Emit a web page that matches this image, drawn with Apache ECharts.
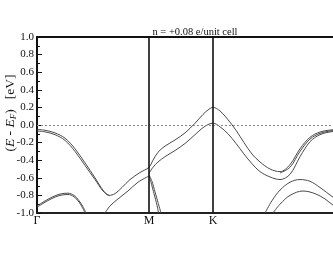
<!DOCTYPE html>
<html><head><meta charset="utf-8">
<script src="https://cdn.jsdelivr.net/npm/echarts@6/dist/echarts.min.js"></script>
<style>html,body{margin:0;padding:0;background:#fff}#c{width:333px;height:258px}</style>
</head><body><div id="c"></div>
<script>
// path distance (scaled): Γ=0, M=112, K=176, Γ=305
const kPoints = [0, 112, 176, 305];
const kLabels = ['Γ', 'M', 'K', 'Γ'];
const yTicks = [-1.0, -0.8, -0.6, -0.4, -0.2, 0.0, 0.2, 0.4, 0.6, 0.8, 1.0];
const titleText = 'n = +0.08 e/unit cell';

const band1Upper = [[0,-0.05],[8,-0.06],[18,-0.09],[28,-0.15],[38,-0.27],[48,-0.43],[58,-0.60],[66,-0.74],[72,-0.80],[78,-0.78],[85,-0.71],[93,-0.62],[103,-0.54],[112,-0.48],
  [116,-0.40],[121,-0.31],[128,-0.24],[138,-0.17],[148,-0.09],[158,0.02],[166,0.12],[172,0.18],[176,0.20],
  [183,0.16],[191,0.06],[199,-0.06],[207,-0.20],[215,-0.33],[223,-0.42],[233,-0.50],[243,-0.53],
  [253,-0.45],[263,-0.27],[273,-0.14],[283,-0.08],[295,-0.055],[305,-0.05]];
const band1Second = [[0,-0.068],[8,-0.078],[18,-0.11],[28,-0.175],[38,-0.30],[48,-0.46],[58,-0.62],[66,-0.75],[72,-0.80]];
const band1Third = [[243,-0.545],[253,-0.48],[263,-0.30],[273,-0.16],[283,-0.095],[295,-0.065],[305,-0.058]];
const band2Lower = [[112,-0.55],[116,-0.48],[121,-0.42],[128,-0.36],[138,-0.29],[148,-0.21],[158,-0.11],[166,-0.03],[172,0.01],[176,0.02],
  [183,-0.02],[191,-0.10],[199,-0.21],[207,-0.33],[215,-0.44],[223,-0.53],[233,-0.59],[243,-0.62],
  [253,-0.56],[263,-0.36],[273,-0.19],[283,-0.11],[295,-0.075],[305,-0.065]];
const bandCLeft = [[68,-1.0],[73,-0.92],[81,-0.84],[91,-0.75],[101,-0.65],[112,-0.58]];
const bandCDown1 = [[112,-0.575],[114,-0.65],[117,-0.78],[120,-0.91],[121.5,-1.0]];
const bandCDown2 = [[112,-0.565],[115,-0.64],[118,-0.76],[121,-0.88],[124,-1.0]];
const bandBUpper = [[0,-0.92],[7,-0.87],[15,-0.82],[23,-0.785],[31,-0.775],[37,-0.80],[42,-0.86],[46,-0.93],[49,-1.0]];
const bandBLower = [[0,-0.935],[7,-0.885],[15,-0.835],[23,-0.80],[31,-0.79],[37,-0.815],[42,-0.875],[45,-0.93],[48,-1.0]];
const archUpper = [[228,-1.0],[235,-0.86],[243,-0.74],[253,-0.65],[263,-0.62],[273,-0.64],[283,-0.71],[296,-0.82],[305,-0.88]];
const archLower = [[236,-1.0],[243,-0.90],[253,-0.80],[266,-0.75],[278,-0.78],[288,-0.84],[296,-0.91],[305,-0.95]];

const chart = echarts.init(document.getElementById('c'), null, {renderer:'canvas'});
const serif = '"Liberation Serif", "DejaVu Serif", serif';
function band(data, smooth) {
  return {type:'line', data:data, showSymbol:false, symbol:'none', smooth: smooth===undefined?0.35:smooth,
    lineStyle:{color:'#4a4a4a', width:1}, silent:true, animation:false, clip:true, z:3};
}
const series = [band1Upper, band1Second, band1Third, band2Lower, bandCLeft, bandBUpper, bandBLower, archUpper, archLower].map(d=>band(d));
series.push(band(bandCDown1, 0.2));
series.push(band(bandCDown2, 0.2));
series.push({type:'line', data:[], markLine:{silent:true, symbol:['none','none'], label:{show:false}, animation:false,
  data:[{yAxis:0, lineStyle:{type:[2,2], color:'#888', width:1}},
        {xAxis:kPoints[1], lineStyle:{type:'solid', color:'#111', width:1.6}},
        {xAxis:kPoints[2], lineStyle:{type:'solid', color:'#111', width:1.6}}]}});

chart.setOption({
  animation:false,
  title:{text:titleText, left:190, top:22, textAlign:'center',
    textStyle:{fontFamily:serif, fontSize:10.5, fontWeight:'normal', color:'#111'}},
  grid:{left:37, top:37, width:305, height:176, containLabel:false, outerBoundsMode:'none'},
  xAxis:[{type:'value', min:0, max:305, position:'bottom',
    axisLine:{show:true, onZero:false, lineStyle:{color:'#222', width:2}},
    axisTick:{show:false}, splitLine:{show:false},
    axisLabel:{customValues:kPoints, formatter:v=>{const i=kPoints.indexOf(v);return i>=0?kLabels[i]:'';},
      fontFamily:serif, fontSize:12, color:'#111', margin:2, hideOverlap:false}},
   {type:'value', min:0, max:305, position:'top',
    axisLine:{show:true, onZero:false, lineStyle:{color:'#111', width:2}},
    axisTick:{show:false}, axisLabel:{show:false}, splitLine:{show:false}}],
  yAxis:{type:'value', min:-1, max:1, interval:0.2,
    axisLine:{show:true, onZero:false, lineStyle:{color:'#111', width:2}},
    axisTick:{show:true, inside:true, length:5, lineStyle:{color:'#111', width:1}},
    minorTick:{show:true, splitNumber:2, length:3, lineStyle:{color:'#111', width:1}},
    splitLine:{show:false},
    axisLabel:{fontFamily:serif, fontSize:11, color:'#111', margin:3,
      formatter:v=>{const t=yTicks.find(x=>Math.abs(x-v)<1e-6);return t===undefined?'':t.toFixed(1);}}},
  graphic:[{type:'text', x:10, y:113, rotation:Math.PI/2,
    style:{text:'({i|E} - {i|E}{s|F})   [eV]', rich:{i:{fontStyle:'italic', fontFamily:serif, fontSize:13.5, fill:'#111'}, s:{fontStyle:'italic', fontFamily:serif, fontSize:9, fill:'#111', padding:[7,0,0,0]}},
      fontFamily:serif, fontSize:13.5, fill:'#111', align:'center', verticalAlign:'middle'}}],
  series: series
});
</script></body></html>
